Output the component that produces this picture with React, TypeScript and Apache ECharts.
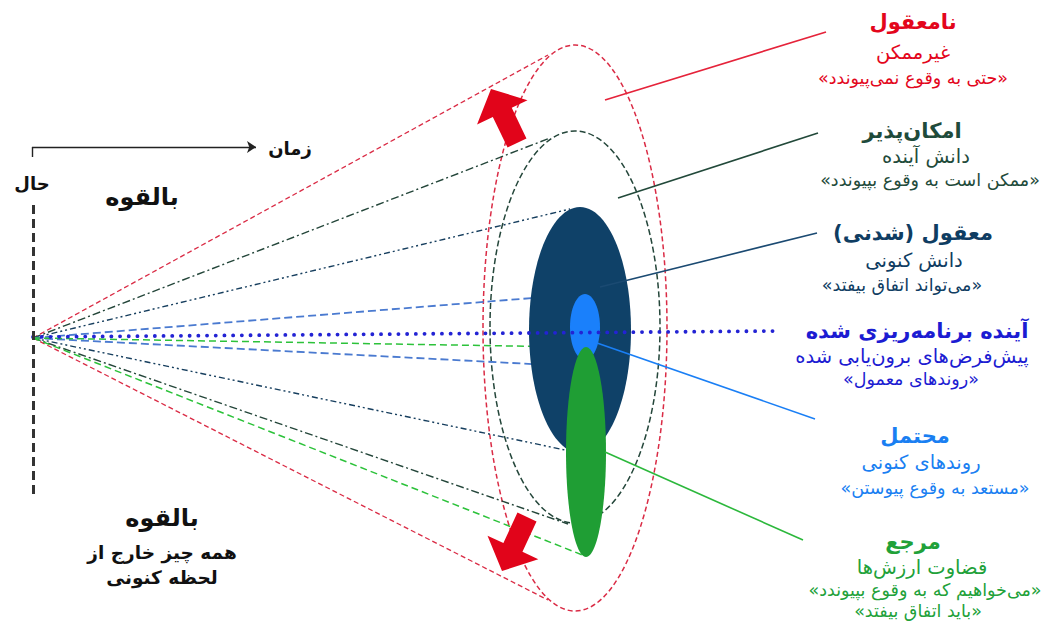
import React, { useEffect, useRef } from 'react';
import * as echarts from 'echarts';

// ---- data (diagram geometry in canvas units) ----
const layerNames = ['نامعقول', 'امکان\u200cپذیر', 'معقول (شدنی)', 'محتمل', 'مرجع'];
const apex = [33, 338];
const coneUpperEnds = [[548, 55], [550, 138], [570, 209], [570, 295], [570, 347]];
const coneLowerEnds = [[548, 600], [568, 524], [565, 450], [570, 366], [585, 556]];
const ellipseCenters = [[575, 328], [575, 327], [580, 330], [585, 327], [586, 452]];
const ellipseRadii = [[92, 283], [85, 196], [51, 123], [15, 33], [20, 105]];
const calloutStarts = [[605, 100], [618, 198], [600, 287], [597, 343], [605, 452]];
const calloutEnds = [[826, 32], [818, 133], [817, 233], [815, 419], [803, 540]];
const plannedLine = [[33, 337], [777, 331]];
const nowLine = [[33, 205], [33, 497]];
const timeTick = [[32, 157], [32, 147]];
const timeArrow = [[32, 147], [256, 147]];
const bigArrows = [[491, 89, 517, 143], [502, 571, 527, 517]];

const titles = ['نامعقول', 'امکان\u200cپذیر', 'معقول (شدنی)', 'آینده برنامه\u200cریزی شده', 'محتمل', 'مرجع'];
const subtitles = ['غیرممکن', 'دانش آینده', 'دانش کنونی', 'پیش\u200cفرض\u200cهای برون\u200cیابی شده', 'روندهای کنونی', 'قضاوت ارزش\u200cها'];
const quotes = [
  '«حتی به وقوع نمی\u200cپیوندد»',
  '«ممکن است به وقوع بپیوندد»',
  '«می\u200cتواند اتفاق بیفتد»',
  '«روندهای معمول»',
  '«مستعد به وقوع پیوستن»',
  '«می\u200cخواهیم که به وقوع بپیوندد»',
];
const extraQuote = '«باید اتفاق بیفتد»';
const leftTexts = ['بالقوه', 'بالقوه', 'همه چیز خارج از', 'لحظه کنونی'];
const axisTexts = ['زمان', 'حال'];

// ---- styles / layout ----
const FONT = '"DejaVu Sans", sans-serif';
const groupColors = ['#e3061c', '#1f4b3b', '#0f3d62', '#1c1cd2', '#1a7ff2', '#21a139'];
const titleX = [913, 912, 913, 917, 915, 913];
const subX = [913, 926, 914, 912, 921, 922];
const quoteX = [913, 930, 902, 911, 935, 925];
const titleY = [22, 131, 233, 331, 436, 542];
const subY = [52, 156, 260, 356, 462, 567];
const quoteY = [78, 180, 285, 379, 488, 590];

const ellipseStyles = [
  { fill: 'none', stroke: '#da2b45', lineWidth: 1.5, lineDash: [5, 3] },
  { fill: 'none', stroke: '#24463a', lineWidth: 1.5, lineDash: [6, 3] },
  { fill: '#0f4168', stroke: 'none' },
  { fill: '#1a80fb', stroke: 'none' },
  { fill: '#1f9e34', stroke: 'none' },
];
const coneStyles = [
  { color: '#da2b45', width: 1.3, type: [5, 3], opacity: 1 },
  { color: '#24463a', width: 1.4, type: [8, 3, 2, 3], opacity: 1 },
  { color: '#163e5e', width: 1.4, type: [6, 3, 2, 3, 2, 3], opacity: 1 },
  { color: '#4a7ad0', width: 1.8, type: [8, 4], opacity: 1 },
  { color: '#2cc23a', width: 1.5, type: [7, 4], opacity: 1 },
];
const calloutColors = ['#e5233a', '#22493a', '#1b4a72', '#1a7ff5', '#2cb83c'];

export default function App() {
  const ref = useRef<HTMLDivElement>(null);
  useEffect(() => {
    if (!ref.current) return;
    const chart = echarts.init(ref.current, null, { renderer: 'svg' });

    const ellipseSeries = (idxs: number[], z: number) => ({
      type: 'custom',
      coordinateSystem: 'cartesian2d',
      z,
      silent: true,
      clip: false,
      data: idxs.map((i) => [ellipseCenters[i][0], ellipseCenters[i][1], ellipseRadii[i][0], ellipseRadii[i][1], i]),
      renderItem: (params: any, api: any) => {
        const c = api.coord([api.value(0), api.value(1)]);
        const s = api.size([api.value(2), api.value(3)]);
        const st = ellipseStyles[api.value(4)];
        return {
          type: 'ellipse',
          shape: { cx: c[0], cy: c[1], rx: Math.abs(s[0]), ry: Math.abs(s[1]) },
          style: st,
        };
      },
    });

    const coneData: any[] = [];
    layerNames.forEach((name, i) => {
      coneData.push({ name, coords: [apex, coneUpperEnds[i]], lineStyle: coneStyles[i] });
      coneData.push({ name, coords: [apex, coneLowerEnds[i]], lineStyle: coneStyles[i] });
    });

    const calloutData = calloutColors.map((color, i) => ({
      coords: [calloutStarts[i], calloutEnds[i]],
      lineStyle: { color, width: 1.6, type: 'solid', opacity: 1 },
    }));

    const textEl = (text: string, x: number, y: number, size: number, weight: string, fill: string) => ({
      type: 'text',
      x,
      y,
      silent: true,
      z: 100,
      style: { text, fill, fontSize: size, fontWeight: weight, fontFamily: FONT, align: 'center', verticalAlign: 'middle' },
    });

    const graphics: any[] = [];
    titles.forEach((t, i) => graphics.push(textEl(t, titleX[i], titleY[i], 21, 'bold', groupColors[i])));
    subtitles.forEach((t, i) => graphics.push(textEl(t, subX[i], subY[i], 19.5, 'normal', groupColors[i])));
    quotes.forEach((t, i) => graphics.push(textEl(t, quoteX[i], quoteY[i], 17.5, 'normal', groupColors[i])));
    graphics.push(textEl(extraQuote, 918, 611, 17.5, 'normal', groupColors[5]));
    graphics.push(textEl(leftTexts[0], 142, 197, 24, 'bold', '#111'));
    graphics.push(textEl(leftTexts[1], 162, 518, 24, 'bold', '#111'));
    graphics.push(textEl(leftTexts[2], 162, 552, 18.5, 'bold', '#111'));
    graphics.push(textEl(leftTexts[3], 162, 577, 18.5, 'bold', '#111'));
    graphics.push(textEl(axisTexts[0], 290, 148, 18, 'bold', '#111'));
    graphics.push(textEl(axisTexts[1], 32, 183, 18, 'bold', '#111'));

    const option: any = {
      animation: false,
      backgroundColor: '#ffffff',
      grid: { left: 0, right: 0, top: 0, bottom: 0 },
      xAxis: { type: 'value', min: 0, max: 1041, show: false },
      yAxis: { type: 'value', min: 0, max: 621, inverse: true, show: false },
      series: [
        ellipseSeries([0, 1], 1),
        {
          type: 'lines',
          coordinateSystem: 'cartesian2d',
          z: 2,
          silent: true,
          data: coneData,
        },
        ellipseSeries([2, 3, 4], 3),
        {
          type: 'lines',
          coordinateSystem: 'cartesian2d',
          z: 4,
          silent: true,
          data: [
            { coords: plannedLine, lineStyle: { color: '#2323d4', width: 3.8, type: [0.1, 8.6], cap: 'round', opacity: 1 } },
            { coords: nowLine, lineStyle: { color: '#333333', width: 3, type: [9, 5], opacity: 1 } },
            { coords: timeTick, lineStyle: { color: '#222222', width: 1.4, type: 'solid', opacity: 1 } },
          ],
        },
        {
          type: 'lines',
          coordinateSystem: 'cartesian2d',
          z: 5,
          silent: true,
          data: calloutData,
        },
        {
          type: 'lines',
          coordinateSystem: 'cartesian2d',
          z: 5,
          silent: true,
          symbol: ['none', 'arrow'],
          symbolSize: [7, 9],
          data: [{ coords: timeArrow, lineStyle: { color: '#222222', width: 1.4, opacity: 1 } }],
        },
        {
          type: 'custom',
          coordinateSystem: 'cartesian2d',
          z: 6,
          silent: true,
          clip: false,
          data: bigArrows,
          renderItem: (params: any, api: any) => {
            const t = api.coord([api.value(0), api.value(1)]);
            const b = api.coord([api.value(2), api.value(3)]);
            const dx = t[0] - b[0];
            const dy = t[1] - b[1];
            const len = Math.hypot(dx, dy);
            const ux = dx / len, uy = dy / len;
            const nx = -uy, ny = ux;
            const hl = 26, hw = 28, sw = 10.5;
            const hx = t[0] - ux * hl, hy = t[1] - uy * hl;
            const pts = [
              [t[0], t[1]],
              [hx + nx * hw, hy + ny * hw],
              [hx + nx * sw, hy + ny * sw],
              [b[0] + nx * sw, b[1] + ny * sw],
              [b[0] - nx * sw, b[1] - ny * sw],
              [hx - nx * sw, hy - ny * sw],
              [hx - nx * hw, hy - ny * hw],
            ];
            return { type: 'polygon', shape: { points: pts }, style: { fill: '#e1041a' } };
          },
        },
      ],
      graphic: graphics,
    };
    chart.setOption(option);
    return () => chart.dispose();
  }, []);

  return (
    <>
      <style>{`.fc svg text{direction:rtl;unicode-bidi:embed;}`}</style>
      <div
        ref={ref}
        className="fc"
        style={{ position: 'absolute', left: 0, top: 0, width: 1041, height: 621, background: '#fff' }}
      />
    </>
  );
}
